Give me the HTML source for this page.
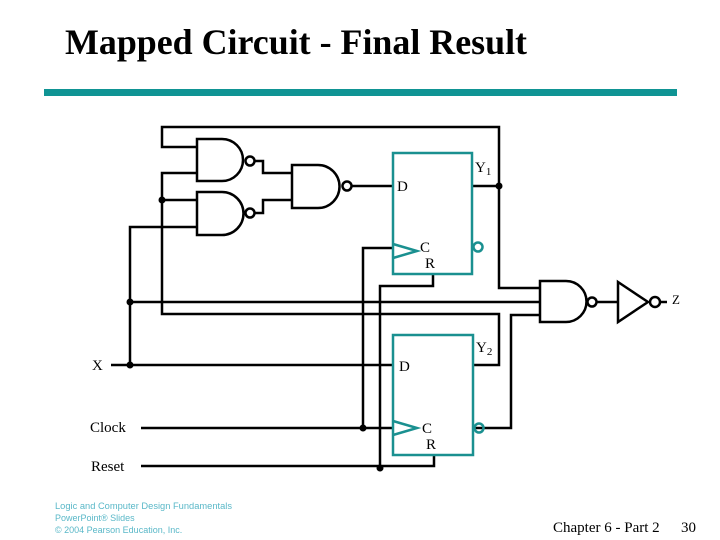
<!DOCTYPE html>
<html><head><style>
html,body{margin:0;padding:0;background:#fff;}
body{width:720px;height:540px;position:relative;overflow:hidden;}
</style></head><body>
<svg width="720" height="540" xmlns="http://www.w3.org/2000/svg" style="position:absolute;left:0;top:0">
<text x="65" y="54" font-family="Liberation Serif, serif" font-weight="bold" font-size="36" fill="#000" textLength="462" lengthAdjust="spacingAndGlyphs">Mapped Circuit - Final Result</text>
<rect x="44" y="89" width="633" height="7" fill="#0f9494"/>
<g stroke="#000" stroke-width="2.5" fill="none">
<polyline points="197,147 162,147 162,127 499,127 499,288 540,288"/>
<polyline points="197,173 162,173 162,314 499,314 499,365 473,365"/>
<line x1="162" y1="200" x2="197" y2="200"/>
<polyline points="197,227 130,227 130,365"/>
<line x1="130" y1="302" x2="540" y2="302"/>
<line x1="111" y1="365" x2="393" y2="365"/>
<polyline points="473,428 511,428 511,315 540,315"/>
<polyline points="255,161 263,161 263,173 292,173"/>
<polyline points="255,213 263,213 263,200 292,200"/>
<line x1="352" y1="186" x2="393" y2="186"/>
<line x1="472" y1="186" x2="499" y2="186"/>
<line x1="141" y1="428" x2="393" y2="428"/>
<polyline points="363,428 363,248 393,248"/>
<polyline points="141,466 434,466 434,455"/>
<polyline points="380,466 380,286 433,286 433,274"/>
<path d="M197,139 H222 A21,21 0 0 1 222,181 H197 Z"/>
<path d="M197,192 H222 A21.5,21.5 0 0 1 222,235 H197 Z"/>
<path d="M292,165 H318 A21.5,21.5 0 0 1 318,208 H292 Z"/>
<circle cx="250" cy="161" r="4.5"/>
<circle cx="250" cy="213" r="4.5"/>
<circle cx="347" cy="186" r="4.5"/>
<path d="M540,281 H566 A20.5,20.5 0 0 1 566,322 H540 Z"/>
<circle cx="592" cy="302" r="4.5"/>
<line x1="597" y1="302" x2="618" y2="302"/>
<path d="M618,282 L648,302 L618,322 Z"/>
<circle cx="655" cy="302" r="5"/>
<line x1="660" y1="302" x2="667" y2="302"/>
</g>
<g fill="#000">
<circle cx="162" cy="200" r="3.5"/><circle cx="130" cy="302" r="3.5"/><circle cx="130" cy="365" r="3.5"/>
<circle cx="499" cy="186" r="3.5"/><circle cx="363" cy="428" r="3.5"/><circle cx="380" cy="468" r="3.5"/>
</g>
<g stroke="#1a9090" stroke-width="2.5" fill="none">
<rect x="393" y="153" width="79" height="121"/>
<polyline points="393,244 417,251 393,258"/>
<circle cx="478" cy="247" r="4.5"/>
<rect x="393" y="335" width="80" height="120"/>
<polyline points="393,421 417,428 393,435"/>
<circle cx="479" cy="428" r="4.5"/>
</g>
<g font-family="Liberation Serif, serif" font-size="15" fill="#000">
<text x="397" y="191">D</text>
<text x="475" y="172">Y<tspan font-size="11" dy="3">1</tspan></text>
<text x="420" y="252">C</text><text x="425" y="268">R</text>
<text x="399" y="371">D</text>
<text x="476" y="352">Y<tspan font-size="11" dy="3">2</tspan></text>
<text x="422" y="433">C</text><text x="426" y="449">R</text>
<text x="672" y="304" font-size="13">Z</text>
<text x="92" y="370">X</text>
<text x="90" y="432">Clock</text>
<text x="91" y="471">Reset</text>
<text x="553" y="532" font-size="15">Chapter 6 - Part 2</text>
<text x="681" y="532" font-size="15">30</text>
</g>
<g font-family="Liberation Sans, sans-serif" font-size="9" fill="#5ab8c8">
<text x="55" y="509" textLength="177" lengthAdjust="spacingAndGlyphs">Logic and Computer Design Fundamentals</text>
<text x="55" y="521">PowerPoint® Slides</text>
<text x="55" y="533">© 2004 Pearson Education, Inc.</text>
</g>
</svg>
</body></html>
